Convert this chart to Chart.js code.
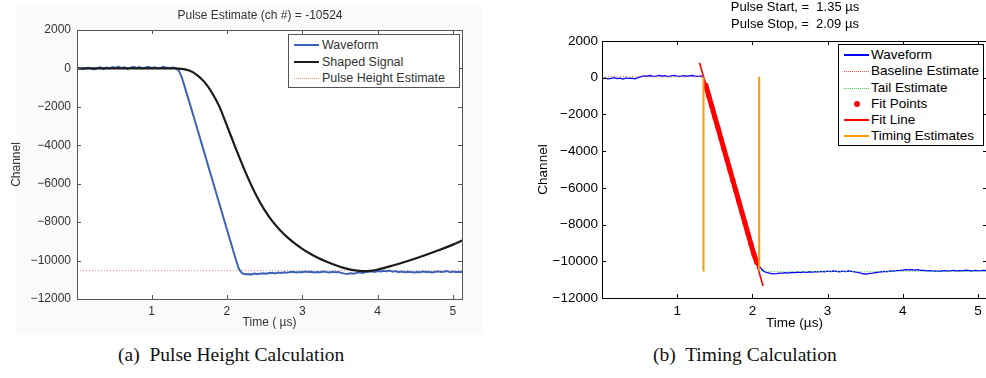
<!DOCTYPE html>
<html>
<head>
<meta charset="utf-8">
<script src="https://cdn.jsdelivr.net/npm/chart.js@4/dist/chart.umd.min.js"></script>
<style>
  html, body { margin: 0; padding: 0; background: #fff; overflow: hidden; }
  #page { position: relative; width: 986px; height: 378px; overflow: hidden; font-family: "Liberation Sans", Arial, sans-serif; }
  #leftBg { position: absolute; left: 16px; top: 6px; width: 466px; height: 328px; background: #fafafa; }
  canvas { position: absolute; top: 0; }
  #chartA { left: 0; }
  #chartB { left: 500px; }
  .title { position: absolute; transform: translateX(-50%); white-space: nowrap; line-height: 14px; }
  .legend { position: absolute; background: #fff; box-sizing: border-box; }
  .legend .row { position: absolute; left: 0; height: 16px; line-height: 16px; white-space: nowrap; }
  .legend .sample { position: absolute; left: 5px; width: 25px; top: 7px; }
  .legend .dot { position: absolute; left: 15px; top: 5px; width: 6px; height: 6px; border-radius: 50%; background: #f00; }
  .legend .txt { position: absolute; }
  .caption { position: absolute; font-family: "Liberation Serif", "DejaVu Serif", serif; font-size: 19.5px; white-space: nowrap; line-height: 22px; color: #111; }
</style>
</head>
<body>
<div id="page">
  <div id="leftBg"></div>
  <canvas id="chartA" width="480" height="340"></canvas>
  <canvas id="chartB" width="500" height="340"></canvas>

  <div class="title" style="left:260px; top:8px; font-size:12px; color:#333;">Pulse Estimate (ch #) = -10524</div>
  <div class="title" style="left:795px; top:0px; font-size:13px;">Pulse Start, = &nbsp;1.35 µs</div>
  <div class="title" style="left:795px; top:17px; font-size:13px;">Pulse Stop, = &nbsp;2.09 µs</div>

  <div class="legend" style="left:288px; top:34px; width:172px; height:54px; border:1px solid #555; font-size:12.5px; color:#333;">
    <div class="row" style="top:2px;"><span class="sample" style="border-top:2px solid #3d63b8;"></span><span class="txt" style="left:33px;">Waveform</span></div>
    <div class="row" style="top:19px;"><span class="sample" style="border-top:2px solid #1b1b1b;"></span><span class="txt" style="left:33px;">Shaped Signal</span></div>
    <div class="row" style="top:35px;"><span class="sample" style="top:8px; border-top:1px dotted #f08878;"></span><span class="txt" style="left:33px;">Pulse Height Estimate</span></div>
  </div>

  <div class="legend" style="left:838px; top:44px; width:146px; height:102px; border:1px solid #000; font-size:13.5px; color:#000;">
    <div class="row" style="top:2px;"><span class="sample" style="border-top:2px solid #0000ff;"></span><span class="txt" style="left:32px;">Waveform</span></div>
    <div class="row" style="top:18px;"><span class="sample" style="top:8px; border-top:1px dotted #ff5050;"></span><span class="txt" style="left:32px;">Baseline Estimate</span></div>
    <div class="row" style="top:35px;"><span class="sample" style="top:8px; border-top:1px dotted #40e040;"></span><span class="txt" style="left:32px;">Tail Estimate</span></div>
    <div class="row" style="top:51px;"><span class="dot"></span><span class="txt" style="left:32px;">Fit Points</span></div>
    <div class="row" style="top:67px;"><span class="sample" style="border-top:2px solid #ff0000;"></span><span class="txt" style="left:32px;">Fit Line</span></div>
    <div class="row" style="top:83px;"><span class="sample" style="border-top:2px solid #ff9900;"></span><span class="txt" style="left:32px;">Timing Estimates</span></div>
  </div>

  <div class="caption" style="left:118px; top:344px;">(a)&nbsp; Pulse Height Calculation</div>
  <div class="caption" style="left:653px; top:344px;">(b)&nbsp; Timing Calculation</div>
</div>

<script>
// sample times (µs) shared by both waveforms
const sampleTimes = [
  0.00, 0.04, 0.08, 0.12, 0.16, 0.20, 0.24, 0.28, 0.32, 0.36,
  0.40, 0.44, 0.48, 0.52, 0.56, 0.60, 0.64, 0.68, 0.72, 0.76,
  0.80, 0.84, 0.88, 0.92, 0.96, 1.00, 1.04, 1.08, 1.12, 1.16,
  1.20, 1.24, 1.28, 1.32, 1.36, 1.40, 1.44, 1.48, 1.52, 1.56,
  1.60, 1.64, 1.68, 1.72, 1.76, 1.80, 1.84, 1.88, 1.92, 1.96,
  2.00, 2.04, 2.08, 2.12, 2.16, 2.20, 2.24, 2.28, 2.32, 2.36,
  2.40, 2.44, 2.48, 2.52, 2.56, 2.60, 2.64, 2.68, 2.72, 2.76,
  2.80, 2.84, 2.88, 2.92, 2.96, 3.00, 3.04, 3.08, 3.12, 3.16,
  3.20, 3.24, 3.28, 3.32, 3.36, 3.40, 3.44, 3.48, 3.52, 3.56,
  3.60, 3.64, 3.68, 3.72, 3.76, 3.80, 3.84, 3.88, 3.92, 3.96,
  4.00, 4.04, 4.08, 4.12, 4.16, 4.20, 4.24, 4.28, 4.32, 4.36,
  4.40, 4.44, 4.48, 4.52, 4.56, 4.60, 4.64, 4.68, 4.72, 4.76,
  4.80, 4.84, 4.88, 4.92, 4.96, 5.00, 5.04, 5.08, 5.12
];

// (a) waveform, channel
const waveformA = [
  -20, 10, -40, 0, 30, -10, -50, 20, 60, -30,
  40, 10, 70, 30, 90, 20, 60, -20, 40, 80,
  30, 70, 0, 50, 90, 20, 60, 10, 40, 80,
  30, 20, 50, 10, -100, -450, -960, -1480, -2000, -2530,
  -3060, -3590, -4120, -4650, -5190, -5720, -6250, -6780, -7320, -7850,
  -8380, -8910, -9440, -9970, -10450, -10660, -10710, -10700, -10730, -10680,
  -10700, -10680, -10660, -10690, -10650, -10640, -10670, -10620, -10650, -10610,
  -10630, -10600, -10580, -10620, -10590, -10610, -10570, -10600, -10580, -10620,
  -10590, -10610, -10570, -10600, -10620, -10580, -10610, -10600, -10640, -10680,
  -10700, -10660, -10690, -10640, -10610, -10650, -10600, -10580, -10560, -10590,
  -10540, -10570, -10530, -10560, -10520, -10580, -10550, -10600, -10570, -10610,
  -10580, -10600, -10620, -10590, -10610, -10570, -10600, -10580, -10620, -10590,
  -10560, -10600, -10580, -10540, -10610, -10570, -10600, -10580, -10590
];

// (a) shaped signal
const shapedTimes = [0.01, 0.5, 1.0, 1.3, 1.4, 1.5, 1.6, 1.7, 1.8, 1.9, 2.0, 2.1, 2.2, 2.3, 2.4,
  2.5, 2.6, 2.7, 2.8, 2.9, 3.0, 3.1, 3.2, 3.3, 3.4, 3.5, 3.6, 3.7, 3.8, 3.9, 4.0,
  4.2, 4.4, 4.6, 4.8, 5.0, 5.12];
const shapedSignal = [0, 0, 0, 0, -20, -110, -330, -700, -1250, -1990, -2980, -3990, -4970, -5880, -6690,
  -7370, -7930, -8390, -8780, -9110, -9390, -9630, -9840, -10020, -10180, -10320, -10430, -10510, -10550, -10540, -10470,
  -10260, -10020, -9760, -9480, -9170, -8960];

const pulseHeightEstimate = -10524;

// (b) waveform, channel
const waveformB = [
  -40, -20, -60, -30, 0, -50, -20, -70, -10, -40,
  -30, -60, 10, 60, 100, 80, 120, 70, 90, 130,
  80, 110, 60, 100, 130, 90, 70, 110, 80, 100,
  120, 90, 70, 100, -50, -650, -1250, -1800, -2380, -2950,
  -3520, -4100, -4680, -5250, -5830, -6400, -6980, -7550, -8130, -8700,
  -9280, -9850, -10200, -10420, -10560, -10620, -10660, -10690, -10670, -10640,
  -10650, -10620, -10640, -10600, -10620, -10590, -10610, -10580, -10600, -10570,
  -10590, -10560, -10580, -10550, -10570, -10540, -10560, -10530, -10550, -10570,
  -10540, -10560, -10530, -10550, -10580, -10610, -10640, -10680, -10700, -10660,
  -10640, -10610, -10590, -10570, -10550, -10560, -10530, -10540, -10510, -10500,
  -10480, -10460, -10470, -10450, -10480, -10460, -10490, -10500, -10520, -10510,
  -10540, -10520, -10550, -10530, -10510, -10540, -10520, -10500, -10530, -10510,
  -10520, -10490, -10510, -10530, -10500, -10520, -10510, -10490, -10510
];

// (b) fit points along the falling edge
const fitTimes = [1.38, 1.42, 1.46, 1.50, 1.54, 1.58, 1.62, 1.66, 1.70, 1.74, 1.78, 1.82, 1.86, 1.90, 1.94, 1.98, 2.02, 2.06];
const fitValues = [-400, -980, -1550, -2130, -2700, -3280, -3860, -4430, -5010, -5590, -6160, -6740, -7320, -7890, -8470, -9050, -9620, -10080];

// (b) fit line ends
const fitLineTimes = [1.297, 2.142];
const fitLineValues = [820, -11346];

const pulseStart = 1.35;
const pulseStop = 2.09;
const baselineValue = 50;
const tailValue = -10560;

const xTicks = [1, 2, 3, 4, 5];
const yTicks = [2000, 0, -2000, -4000, -6000, -8000, -10000, -12000];
const xMinA = 0.01, xMaxA = 5.12;
const xMinB = 0, xMaxB = 5.12;

const pts = (xs, ys) => xs.map((x, i) => ({ x: x, y: ys[i] }));
const fmt = (v) => (v < 0 ? "\u2212" + Math.abs(v) : String(v));

Chart.defaults.font.family = "'Liberation Sans', Arial, sans-serif";
Chart.defaults.animation = false;

// frame + inward ticks on all four sides, matlab style
const boxTicks = {
  id: "boxTicks",
  beforeDraw(chart) {
    const { ctx, chartArea: a } = chart;
    ctx.save();
    ctx.fillStyle = "#fff";
    ctx.fillRect(a.left, a.top, a.right - a.left, a.bottom - a.top);
    ctx.restore();
  },
  afterDatasetsDraw(chart, args, opts) {
    const { ctx, chartArea: a, scales } = chart;
    const x = scales.x, y = scales.y;
    const len = opts.len || 4;
    ctx.save();
    ctx.strokeStyle = opts.color || "#000";
    ctx.lineWidth = 1;
    ctx.beginPath();
    x.ticks.forEach((t) => {
      const px = Math.round(x.getPixelForValue(t.value)) + 0.5;
      ctx.moveTo(px, a.bottom); ctx.lineTo(px, a.bottom - len);
      ctx.moveTo(px, a.top); ctx.lineTo(px, a.top + len);
    });
    y.ticks.forEach((t) => {
      const py = Math.round(y.getPixelForValue(t.value)) + 0.5;
      ctx.moveTo(a.left, py); ctx.lineTo(a.left + len, py);
      ctx.moveTo(a.right, py); ctx.lineTo(a.right - len, py);
    });
    ctx.stroke();
    ctx.strokeRect(Math.round(a.left) + 0.5, Math.round(a.top) + 0.5, Math.round(a.right - a.left), Math.round(a.bottom - a.top));
    ctx.restore();
  },
};

function axes(o) {
  return {
    x: {
      type: "linear", min: o.xMin, max: o.xMax,
      grid: { display: false, drawTicks: false }, border: { display: false },
      afterBuildTicks: (s) => { s.ticks = xTicks.map((v) => ({ value: v })); },
      afterFit: (s) => { s.height = o.xHeight; },
      ticks: { padding: 5, color: o.color, font: { size: o.size }, maxRotation: 0, callback: (v) => String(v) },
      title: { display: true, text: o.xTitle, color: o.color, font: { size: o.size }, padding: { top: 0, bottom: o.xTitlePad } },
    },
    y: {
      type: "linear", min: -12000, max: 2000,
      grid: { display: false, drawTicks: false }, border: { display: false },
      afterBuildTicks: (s) => { s.ticks = yTicks.map((v) => ({ value: v })); },
      afterFit: (s) => { s.width = o.yWidth; },
      ticks: { padding: o.yPad, color: o.color, font: { size: o.size }, callback: (v) => fmt(v) },
      title: { display: true, text: "Channel", color: o.color, font: { size: o.size }, padding: { top: o.yTitlePad, bottom: 0 } },
    },
  };
}

// (a) Pulse Height Calculation
new Chart(document.getElementById("chartA"), {
  type: "line",
  data: {
    datasets: [
      { label: "Shaped Signal", data: pts(shapedTimes, shapedSignal), borderColor: "#1b1b1b", borderWidth: 2.2, pointRadius: 0, cubicInterpolationMode: "monotone" },
      { label: "Waveform", data: pts(sampleTimes, waveformA), borderColor: "#3d63b8", borderWidth: 2, pointRadius: 0 },
      { label: "Pulse Height Estimate", data: pts([xMinA, xMaxA], [pulseHeightEstimate, pulseHeightEstimate]), borderColor: "#f08878", borderWidth: 1, borderDash: [1, 2], pointRadius: 0 },
    ],
  },
  options: {
    responsive: false,
    layout: { padding: { top: 30, right: 18, left: 0, bottom: 0 } },
    scales: axes({ xMin: xMinA, xMax: xMaxA, xHeight: 41, yWidth: 77, yPad: 6, size: 12, color: "#333", xTitle: "Time ( µs)", xTitlePad: 9.8, yTitlePad: 9.8 }),
    plugins: { legend: { display: false }, tooltip: { enabled: false }, boxTicks: { color: "#555", len: 4 } },
  },
  plugins: [boxTicks],
});

// (b) Timing Calculation
new Chart(document.getElementById("chartB"), {
  type: "line",
  data: {
    datasets: [
      { label: "Timing Estimates", data: pts([pulseStart, pulseStart], [baselineValue, tailValue]), borderColor: "#ff9900", borderWidth: 2, pointRadius: 0 },
      { label: "Timing Estimates", data: pts([pulseStop, pulseStop], [baselineValue, tailValue]), borderColor: "#ff9900", borderWidth: 2, pointRadius: 0 },
      { label: "Fit Line", data: pts(fitLineTimes, fitLineValues), borderColor: "#ff0000", borderWidth: 1.6, pointRadius: 0 },
      { label: "Fit Points", data: pts(fitTimes, fitValues), borderColor: "#ff0000", backgroundColor: "#ff0000", borderWidth: 5, pointRadius: 2.5, pointBorderWidth: 0 },
      { label: "Baseline Estimate", data: pts([xMinB, pulseStart], [baselineValue, baselineValue]), borderColor: "#ff5050", borderWidth: 1, borderDash: [1, 2], pointRadius: 0 },
      { label: "Tail Estimate", data: pts([pulseStop, xMaxB], [tailValue, tailValue]), borderColor: "#40e040", borderWidth: 1, borderDash: [1, 2], pointRadius: 0 },
      { label: "Waveform", data: pts(sampleTimes, waveformB), borderColor: "#0000ff", borderWidth: 1.3, pointRadius: 0 },
    ],
  },
  options: {
    responsive: false,
    layout: { padding: { top: 41, right: 13, left: 0, bottom: 0 } },
    scales: axes({ xMin: xMinB, xMax: xMaxB, xHeight: 42, yWidth: 102, yPad: 4, size: 13.5, color: "#000", xTitle: "Time (µs)", xTitlePad: 8.9, yTitlePad: 35 }),
    plugins: { legend: { display: false }, tooltip: { enabled: false }, boxTicks: { color: "#000", len: 4 } },
  },
  plugins: [boxTicks],
});
</script>
</body>
</html>
